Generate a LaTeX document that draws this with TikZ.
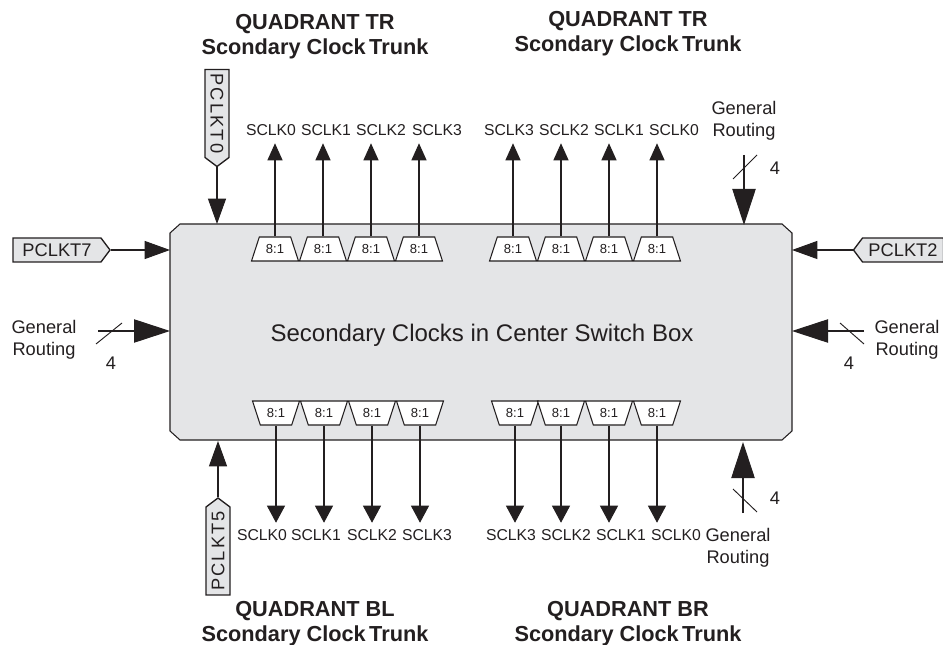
\documentclass[tikz,border=0pt]{standalone}
\usepackage{fontspec}
\setmainfont{Liberation Sans}
\usetikzlibrary{arrows.meta,shapes.geometric,shapes.symbols,calc}
\definecolor{boxgray}{HTML}{E4E5E7}
\definecolor{ink}{HTML}{231F20}
\tikzset{
  every node/.style={text=ink},
  line/.style={draw=ink,line width=0.8pt},
  small/.style={-{Triangle[length=12.75pt,width=11.25pt]},line,ink},
  smalldown/.style={-{Triangle[length=12.75pt,width=13.5pt]},line,ink},
  mid/.style={-{Triangle[length=19pt,width=13.5pt]},line,ink},
  big/.style={-{Triangle[length=27pt,width=17.5pt]},line,ink},
  slash/.style={draw=ink,line width=0.7pt},
  mux/.style={shape=trapezium,draw=ink,line width=0.8pt,fill=white,inner sep=0pt,
    trapezium stretches=true,minimum width=35.25pt,minimum height=18pt,
    trapezium left angle=64,trapezium right angle=64,
    font=\fontsize{9.8pt}{11pt}\selectfont},
  muxdown/.style={mux,shape border rotate=180},
  tagbox/.style={shape=signal,signal to=east,draw=ink,line width=1pt,fill=boxgray,inner sep=0pt,
    minimum height=18pt,signal pointer angle=106,
    font=\fontsize{13.7pt}{15pt}\selectfont},
  sclk/.style={inner sep=0pt,font=\fontsize{11.8pt}{13pt}\selectfont},
  sclktop/.style={sclk,minimum height=19.5pt},
  sclkbot/.style={sclk,minimum height=18pt},
  title/.style={align=center,inner sep=0pt,font=\fontsize{16.3pt}{18.8pt}\selectfont\bfseries},
  gen/.style={align=center,inner sep=0pt,font=\fontsize{13.7pt}{16.5pt}\selectfont},
}
\newcommand{\trunkline}{Scondary Clock\kern-0.12em{} Trunk}
\begin{document}
\begin{tikzpicture}[x=0.75pt,y=-0.75pt]
\useasboundingbox (0,0) rectangle (943,645);
% main box
\draw[line,fill=boxgray] (180,224) -- (782,224) -- (792,233) -- (792,431) -- (782,440) -- (180,440) -- (170,431) -- (170,233) -- cycle;
\node[font=\fontsize{18pt}{20pt}\selectfont,inner sep=0pt] (center) at (482,335) {Secondary Clocks in Center Switch Box};
\coordinate (boxT0) at (217,224);
\coordinate (boxT7) at (170,250);
\coordinate (boxT2) at (792,250);
\coordinate (boxT5) at (218,441);
\coordinate (boxGL) at (170,331);
\coordinate (boxGR) at (792,331);
\coordinate (boxGT) at (744,225);
\coordinate (boxGB) at (743,442);
% titles
\node[title] (t1) at (315,37) {QUADRANT TR\\\trunkline};
\node[title] (t2) at (628,33.5) {QUADRANT TR\\\trunkline};
\node[title] (t3) at (315,624) {QUADRANT BL\\\trunkline};
\node[title] (t4) at (628,624) {QUADRANT BR\\\trunkline};
% top muxes and outputs
\foreach \n/\x/\lx/\lab in {a/275/271/SCLK0,b/323/326/SCLK1,c/371/381/SCLK2,d/419/437/SCLK3,
  e/513/509/SCLK3,f/561/564/SCLK2,g/609/619/SCLK1,h/657/674/SCLK0}{
  \node[mux] (m\n) at (\x,249) {8:1};
  \node[sclktop] (s\n) at (\lx,130) {\lab};
  \draw[small] (m\n.north) -- (m\n.north |- s\n.south);
}
% bottom muxes and outputs
\foreach \n/\x/\lx/\lab in {i/276/262/SCLK0,j/324/316/SCLK1,k/372/372/SCLK2,l/420/427/SCLK3,
  m/515/511/SCLK3,n/561/566/SCLK2,o/609/621/SCLK1,p/657/676/SCLK0}{
  \node[muxdown] (m\n) at (\x,413) {8:1};
  \node[sclkbot] (s\n) at (\lx,535) {\lab};
  \draw[smalldown] (m\n.south) -- (m\n.south |- s\n.north);
}
% clock tags
\node[tagbox,minimum width=72.75pt] (p7) at (57,250) {PCLKT7};
\node[tagbox,minimum width=67.5pt,signal to=west] (p2) at (903,250) {PCLKT2};
\node[tagbox,minimum width=72.75pt,rotate=-90] (p0) at (217,113.5) {\addfontfeature{LetterSpace=12}PCLKT0};
\node[tagbox,minimum width=72.75pt,rotate=90] (p5) at (218,551) {\addfontfeature{LetterSpace=12}PCLKT5};
\draw[mid] (p7.east) -- (boxT7);
\draw[mid] (p2.west) -- (boxT2);
\draw[mid] (p0.east) -- (boxT0);
\draw[mid] (p5.east) -- (boxT5);
% general routing
\node[gen] (gl) at (44,339.5) {General\\Routing};
\node[gen] (gr) at (907,339.5) {General\\Routing};
\node[gen] (gt) at (744,120.5) {General\\Routing};
\node[gen] (gb) at (738,547.5) {General\\Routing};
\node[gen] (nl) at (111,363) {4};
\node[gen] (nr) at (849,363) {4};
\node[gen] (nt) at (775,168) {4};
\node[gen] (nb) at (775,498) {4};
\coordinate (sl) at (98,331);
\coordinate (sr) at (864,331);
\coordinate (st) at (744,155);
\coordinate (sb) at (743,513);
\draw[big] (sl) -- (boxGL);
\draw[big] (sr) -- (boxGR);
\draw[big] (st) -- (boxGT);
\draw[big] (sb) -- (boxGB);
\draw[slash] (96,344) -- (122,323);
\draw[slash] (840,323) -- (864,344);
\draw[slash] (733,179) -- (757,155);
\draw[slash] (733,489) -- (757,512);
\end{tikzpicture}
\end{document}
